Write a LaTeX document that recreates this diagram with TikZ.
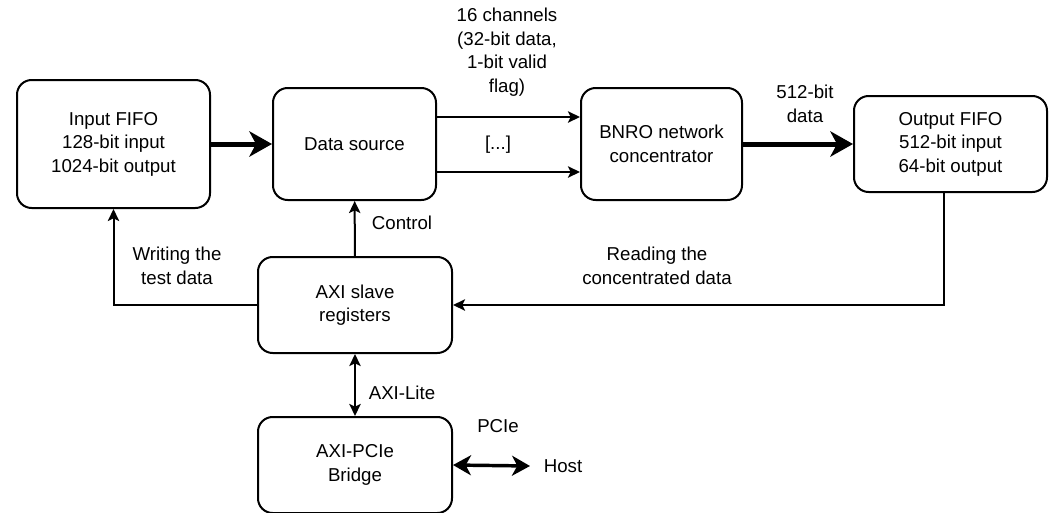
\documentclass[tikz,border=0pt]{standalone}
\usepackage{fontspec}
\setmainfont{Liberation Sans}
\usetikzlibrary{arrows.meta}
\tikzset{
    blk/.style={draw, line width=1.5pt, rounded corners=11pt, align=center,
        font=\fontsize{14}{17.6}\selectfont},
    lbl/.style={align=center, inner sep=0pt, font=\fontsize{14}{17.6}\selectfont},
    link/.style={line width=1.5pt, -{Stealth[length=9pt, width=8.5pt, inset=2pt]}},
    bus/.style={line width=3.75pt, -{Stealth[length=17pt, width=19pt, inset=5pt]}}
}
\begin{document}
\begin{tikzpicture}[x=0.75pt, y=-0.75pt]
        \useasboundingbox (0,0) rectangle (1051,512);

        % 数据通路上的模块
        \node[blk, minimum width=144.75pt, minimum height=96pt] (infifo) at (113.5,144)
            {Input FIFO\\128-bit input\\1024-bit output};
        \node[blk, minimum width=122.25pt, minimum height=84pt] (src) at (354.5,144) {Data source};
        \node[blk, minimum width=120.75pt, minimum height=84pt] (bnro) at (661.5,144)
            {BNRO network\\concentrator};
        \node[blk, minimum width=144.75pt, minimum height=72pt] (outfifo) at (950.5,144)
            {Output FIFO\\512-bit input\\64-bit output};

        % 控制与主机接口
        \node[blk, minimum width=145.5pt, minimum height=72pt] (regs) at (355,305)
            {AXI slave\\registers};
        \node[blk, minimum width=145.5pt, minimum height=72pt] (bridge) at (355,465)
            {AXI-PCIe\\Bridge};
        \node[lbl] (host) at (563,466) {Host};
        \coordinate (hostend) at (530,466);
        \coordinate (rdcorner) at (944,305);

        % 数据流
        \draw[bus] (infifo) -- (src);
        \draw[link] ([yshift=20.25pt]src.east) -- ([yshift=20.25pt]bnro.west);
        \draw[link] ([yshift=-21pt]src.east) -- ([yshift=-21pt]bnro.west);
        \node[lbl] (dots) at (498,145) {[...]};
        \node[lbl] (chan) at (507,52) {16 channels\\(32-bit data,\\1-bit valid\\flag)};
        \draw[bus] (bnro) -- (outfifo);
        \node[lbl] (wide) at (805,104) {512-bit\\data};

        % 寄存器的读写
        \draw[link] (regs.west) -| (infifo.south);
        \node[lbl] (wrlbl) at (177,266) {Writing the\\test data};
        \draw[link] (regs) -- (src);
        \node[lbl] (ctl) at (402,223) {Control};
        \draw[link] (outfifo.south -| rdcorner) -- (rdcorner) -- (regs.east);
        \node[lbl] (rdlbl) at (657,266) {Reading the\\concentrated data};

        % AXI-Lite 与 PCIe
        \draw[link, {Stealth[length=9pt, width=8.5pt, inset=2pt]}-{Stealth[length=9pt, width=8.5pt, inset=2pt]}]
            (regs) -- (bridge);
        \node[lbl] (axil) at (402,393) {AXI-Lite};
        \draw[bus, line width=2.6pt, {Stealth[length=13.5pt, width=15pt, inset=4pt]}-{Stealth[length=13.5pt, width=15pt, inset=4pt]}]
            (bridge.east) -- (hostend);
        \node[lbl] (pcie) at (498,426) {PCIe};
\end{tikzpicture}
\end{document}
